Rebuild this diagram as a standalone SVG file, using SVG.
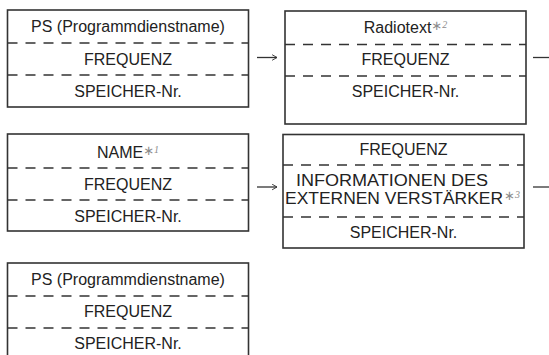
<svg xmlns="http://www.w3.org/2000/svg" width="549" height="355" viewBox="0 0 549 355">
  <style>
    .box { fill: #ffffff; stroke: #333333; stroke-width: 1.6; }
    .sep { stroke: #333333; stroke-width: 1.4; stroke-dasharray: 10 8; fill: none; }
    .lbl { font-family: "Liberation Sans", Arial, sans-serif; font-size: 16px; fill: #222222; text-anchor: middle; }
    .star { font-family: "DejaVu Sans", sans-serif; font-size: 13px; fill: #8c8c8c; }
    .sup { font-family: "Liberation Serif", serif; font-style: italic; font-size: 10px; fill: #8c8c8c; }
    .conn { stroke: #333333; stroke-width: 1.3; fill: none; }
  </style>
  <defs>
    <marker id="head" viewBox="0 0 10 10" refX="9" refY="5" markerWidth="7" markerHeight="7" markerUnits="userSpaceOnUse" orient="auto">
      <path d="M2 1 L9 5 L2 9" fill="none" stroke="#333333" stroke-width="1.3"/>
    </marker>
  </defs>
  <rect width="549" height="355" fill="#ffffff"/>

  <!-- Station display, row 1 left -->
  <g id="ps-1">
    <rect class="box" x="7.5" y="10" width="241" height="97"/>
    <line class="sep" x1="7.5" y1="43" x2="248.5" y2="43"/>
    <line class="sep" x1="7.5" y1="75" x2="248.5" y2="75"/>
    <text class="lbl" x="128" y="32">PS (Programmdienstname)</text>
    <text class="lbl" x="128" y="65">FREQUENZ</text>
    <text class="lbl" x="128" y="97">SPEICHER-Nr.</text>
  </g>

  <!-- Radiotext display -->
  <g id="radiotext">
    <rect class="box" x="285" y="11" width="241" height="113"/>
    <line class="sep" x1="285" y1="44.5" x2="526" y2="44.5"/>
    <line class="sep" x1="285" y1="76" x2="526" y2="76"/>
    <text class="lbl" x="405.5" y="33">Radiotext<tspan class="star" dy="-3">∗</tspan><tspan class="sup" dy="-2">2</tspan></text>
    <text class="lbl" x="405.5" y="65">FREQUENZ</text>
    <text class="lbl" x="405.5" y="97">SPEICHER-Nr.</text>
  </g>

  <!-- Name display -->
  <g id="name">
    <rect class="box" x="7.5" y="134" width="241" height="97"/>
    <line class="sep" x1="7.5" y1="168" x2="248.5" y2="168"/>
    <line class="sep" x1="7.5" y1="200" x2="248.5" y2="200"/>
    <text class="lbl" x="128" y="158">NAME<tspan class="star" dy="-3">∗</tspan><tspan class="sup" dy="-2">1</tspan></text>
    <text class="lbl" x="128" y="190">FREQUENZ</text>
    <text class="lbl" x="128" y="222">SPEICHER-Nr.</text>
  </g>

  <!-- External amplifier display -->
  <g id="amplifier">
    <rect class="box" x="283" y="134.5" width="241" height="113.5"/>
    <line class="sep" x1="283" y1="165" x2="524" y2="165"/>
    <line class="sep" x1="283" y1="217" x2="524" y2="217"/>
    <text class="lbl" x="403.5" y="155">FREQUENZ</text>
    <text class="lbl" x="392" y="185.5" textLength="192" lengthAdjust="spacingAndGlyphs">INFORMATIONEN DES</text>
    <text class="lbl" x="394" y="203.5" textLength="218" lengthAdjust="spacingAndGlyphs">EXTERNEN VERSTÄRKER</text>
    <text x="504" y="200"><tspan class="star">∗</tspan><tspan class="sup" dy="-2">3</tspan></text>
    <text class="lbl" x="403.5" y="238">SPEICHER-Nr.</text>
  </g>

  <!-- Station display, back to start -->
  <g id="ps-2">
    <rect class="box" x="7.5" y="263" width="241" height="100"/>
    <line class="sep" x1="7.5" y1="296" x2="248.5" y2="296"/>
    <line class="sep" x1="7.5" y1="328" x2="248.5" y2="328"/>
    <text class="lbl" x="128" y="285">PS (Programmdienstname)</text>
    <text class="lbl" x="128" y="317">FREQUENZ</text>
    <text class="lbl" x="128" y="349">SPEICHER-Nr.</text>
  </g>

  <!-- Connectors -->
  <g id="connectors">
    <line class="conn" x1="257" y1="57.5" x2="277" y2="57.5" marker-end="url(#head)"/>
    <line class="conn" x1="533" y1="57.5" x2="554" y2="57.5" marker-end="url(#head)"/>
    <line class="conn" x1="257" y1="187" x2="277" y2="187" marker-end="url(#head)"/>
    <line class="conn" x1="533" y1="187" x2="554" y2="187" marker-end="url(#head)"/>
  </g>
</svg>
